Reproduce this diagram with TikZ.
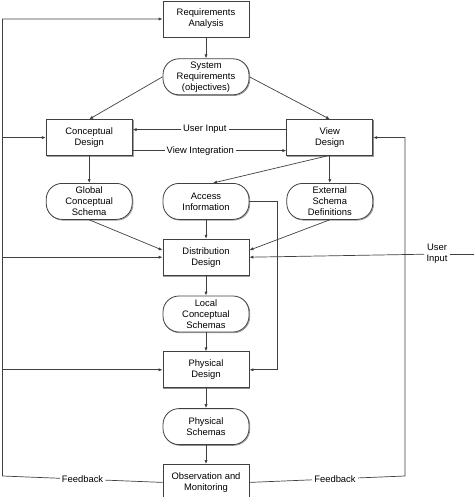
\documentclass[tikz,border=0pt]{standalone}
\usepackage{fontspec}
\setmainfont{Liberation Sans}
\usetikzlibrary{positioning, arrows.meta, shadows}

\begin{document}
\begin{tikzpicture}[node distance=20pt, >={Latex[length=4pt,width=3.2pt]},
	font=\fontsize{9.4}{11}\selectfont,
	rect/.style={draw=black!75, line width=0.8pt, fill=white, minimum width=86pt, minimum height=36pt, align=center, inner sep=1.5pt, drop shadow={shadow xshift=0.8pt, shadow yshift=-0.8pt, fill=black!30}},
	pill/.style={rect, rounded corners=16pt},
	lbl/.style={fill=white, inner sep=2pt, align=center},
	every path/.style={draw=black!75, line width=0.7pt}]
	
	\path[use as bounding box, draw=none] (0,0) rectangle (474pt,-497pt);
	
	% Draw boxes
	\node (req) [rect] at (206pt,-19pt) {Requirements\\Analysis};
	\node (sysreq) [pill, below=21pt of req] {System\\Requirements\\(objectives)};
	\node (concept) [rect, below left=24pt and 30pt of sysreq] {Conceptual\\Design};
	\node (view) [rect, below right=24pt and 37pt of sysreq] {View\\Design};
	\node (gcs) [pill, below=27pt of concept] {Global\\Conceptual\\Schema};
	\node (access) [pill, right=30pt of gcs] {Access\\Information};
	\node (ext) [pill, below=27pt of view] {External\\Schema\\Definitions};
	\node (dist) [rect, below=19pt of access] {Distribution\\Design};
	\node (lcs) [pill, below=of dist] {Local\\Conceptual\\Schemas};
	\node (phys) [rect, below=19pt of lcs] {Physical\\Design};
	\node (physs) [pill, below=of phys] {Physical\\Schemas};
	\node (obs) [rect, below=19pt of physs] {Observation and\\Monitoring};
	
	% Loose ends
	\coordinate (fbL) at (2.5pt,-476pt);
	\coordinate (fbR) at (405pt,-476pt);
	\coordinate (uin) at (474pt,-254pt);
	\node (uinlbl) [lbl] at (437pt,-254pt) {User\\Input};
	
	% Draw arrows
	\draw[->] (req.south) -- (sysreq.north);
	\draw[->] (sysreq.west) -- (concept.north);
	\draw[->] (sysreq.east) -- (view.north);
	\draw[->] ([yshift=8pt]view.west) -- node[lbl, pos=0.53] {User Input} ([yshift=8pt]concept.east);
	\draw[->] ([yshift=-13pt]concept.east) -- node[lbl, pos=0.44] {View Integration} ([yshift=-13pt]view.west);
	\draw[->] (concept.south) -- (gcs.north);
	\draw[->] ([xshift=-3pt]view.south) -- ([xshift=7pt]access.north);
	\draw[->] (view.south) -- (ext.north);
	\draw[->] (gcs.south) -- ([yshift=7pt]dist.west);
	\draw[->] (access.south) -- (dist.north);
	\draw[->] (ext.south) -- ([yshift=7pt]dist.east);
	\draw[->] (access.east) -- ++(28pt,0) |- (phys.east);
	\draw[->] (dist.south) -- (lcs.north);
	\draw[->] (lcs.south) -- (phys.north);
	\draw[->] (phys.south) -- (physs.north);
	\draw[->] (physs.south) -- (obs.north);
	
	% Feedback and user input
	\draw[->] (obs.west) -- node[lbl] {Feedback} (fbL) |- (req.west);
	\draw[->] (fbL |- concept.west) -- (concept.west);
	\draw[->] (fbL |- dist.west) -- (dist.west);
	\draw[->] (fbL |- phys.west) -- (phys.west);
	\draw[->] (obs.east) -- node[lbl, pos=0.55] {Feedback} (fbR) |- (view.east);
	\draw (uin) -- (uinlbl);
	\draw[->] (uinlbl) -- (dist.east);
	
\end{tikzpicture}
\end{document}
